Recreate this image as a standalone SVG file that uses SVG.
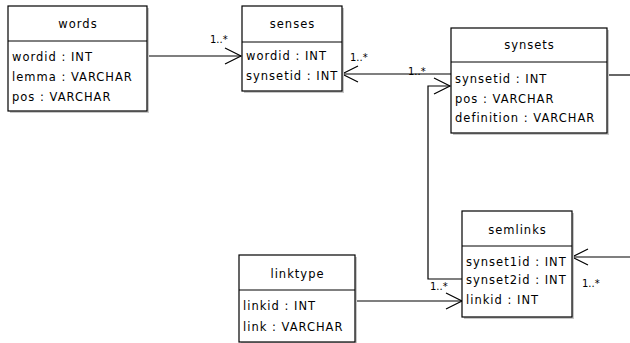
<svg xmlns="http://www.w3.org/2000/svg" width="630" height="343" viewBox="0 0 630 343">
<style>
.box{fill:#fff;stroke:#000;stroke-width:1.2}
.sh{fill:#c8c8c8}
.sep{stroke:#000;stroke-width:1}
.t{font-family:"DejaVu Sans",sans-serif;font-size:11.5px;letter-spacing:1px;fill:#000}
.c{text-anchor:middle}
.ln{fill:none;stroke:#000;stroke-width:1.2}
.lb{font-family:"DejaVu Sans",sans-serif;font-size:10px;fill:#000}
</style>
<rect width="630" height="343" fill="#fff"/>
<g id="connectors">
<path class="ln" d="M147,56 H241"/>
<path class="ln" d="M225,48 L241,56 L225,64"/>
<text class="lb" x="210" y="43">1..*</text>
<path class="ln" d="M342,74 H451"/>
<path class="ln" d="M358,66 L342,74 L358,82"/>
<text class="lb" x="350" y="61">1..*</text>
<text class="lb" x="408" y="75">1..*</text>
<path class="ln" d="M462,279 H428 V86 H450"/>
<path class="ln" d="M434,78 L450,86 L434,94"/>
<text class="lb" x="430" y="290">1..*</text>
<path class="ln" d="M355,301 H462"/>
<path class="ln" d="M446,293 L462,301 L446,309"/>
<path class="ln" d="M607,75 H630"/>
<path class="ln" d="M630,257 H572"/>
<path class="ln" d="M588,249 L572,257 L588,265"/>
<text class="lb" x="582" y="287">1..*</text>
</g>
<g id="words">
<rect class="sh" x="10" y="8" width="139" height="105"/>
<rect class="box" x="8" y="6" width="139" height="105"/>
<line class="sep" x1="8" y1="41" x2="147" y2="41"/>
<text class="t c" x="78" y="28">words</text>
<text class="t" x="12" y="61">wordid : INT</text>
<text class="t" x="12" y="81">lemma : VARCHAR</text>
<text class="t" x="12" y="101">pos : VARCHAR</text>
</g>
<g id="senses">
<rect class="sh" x="244" y="8" width="100" height="85"/>
<rect class="box" x="242" y="6" width="100" height="85"/>
<line class="sep" x1="242" y1="42" x2="342" y2="42"/>
<text class="t c" x="292.5" y="28">senses</text>
<text class="t" x="246" y="60">wordid : INT</text>
<text class="t" x="246" y="80">synsetid : INT</text>
</g>
<g id="synsets">
<rect class="sh" x="453" y="30" width="156" height="105"/>
<rect class="box" x="451" y="28" width="156" height="105"/>
<line class="sep" x1="451" y1="62" x2="607" y2="62"/>
<text class="t c" x="529.5" y="49">synsets</text>
<text class="t" x="455" y="83">synsetid : INT</text>
<text class="t" x="455" y="103">pos : VARCHAR</text>
<text class="t" x="455" y="122">definition : VARCHAR</text>
</g>
<g id="semlinks">
<rect class="sh" x="464" y="213" width="110" height="106"/>
<rect class="box" x="462" y="211" width="110" height="106"/>
<line class="sep" x1="462" y1="246" x2="572" y2="246"/>
<text class="t c" x="517.5" y="234">semlinks</text>
<text class="t" x="466" y="266">synset1id : INT</text>
<text class="t" x="466" y="284">synset2id : INT</text>
<text class="t" x="466" y="304">linkid : INT</text>
</g>
<g id="linktype">
<rect class="sh" x="241" y="257" width="116" height="88"/>
<rect class="box" x="239" y="255" width="116" height="87"/>
<line class="sep" x1="239" y1="290" x2="355" y2="290"/>
<text class="t c" x="297.5" y="278">linktype</text>
<text class="t" x="243" y="310">linkid : INT</text>
<text class="t" x="243" y="331">link : VARCHAR</text>
</g>
</svg>
